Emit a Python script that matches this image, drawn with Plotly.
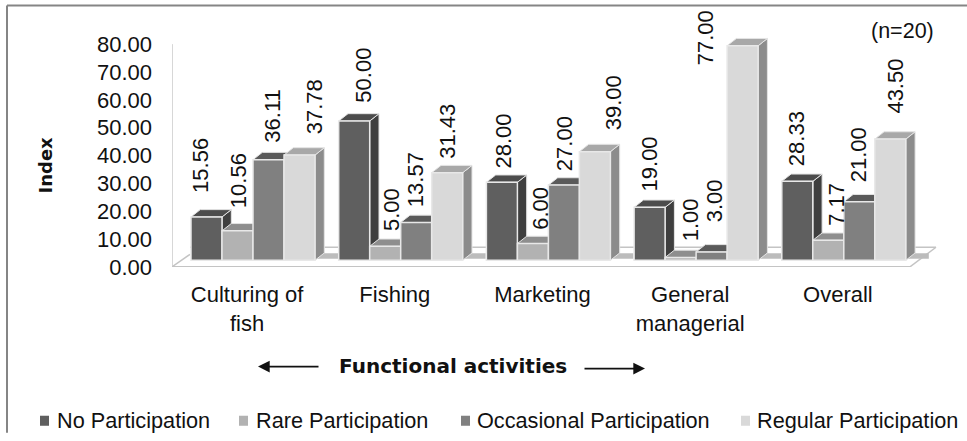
import plotly.graph_objects as go

categories = ["Culturing of<br>fish", "Fishing", "Marketing", "General<br>managerial", "Overall"]
no_participation = [15.56, 50.00, 28.00, 19.00, 28.33]
rare_participation = [10.56, 5.00, 6.00, 1.00, 7.17]
occasional_participation = [36.11, 13.57, 27.00, 3.00, 21.00]
regular_participation = [37.78, 31.43, 39.00, 77.00, 43.50]
series_names = ["No Participation", "Rare Participation", "Occasional Participation", "Regular Participation"]
y_ticks = [0, 10, 20, 30, 40, 50, 60, 70, 80]

# Styling
W, H = 967, 441
L, R_PX, B_PX = 172, 940, 266.7
PXY = (B_PX - 44.5) / 80.0
Y_MAX = 84
T = B_PX - Y_MAX * PXY
PITCH = 147.7
X0_PX = 253.0
BW = 31 / PITCH
DX = 9.3 / PITCH
DY = 7.3 / PXY
BASE = 6.7 / PXY
FONT = "Liberation Sans"
front = ["#5f5f5f", "#b2b2b2", "#808080", "#d9d9d9"]
top_c = ["#4c4c4c", "#8e8e8e", "#5a5a5a", "#a8a8a8"]
side_c = ["#3f3f3f", "#6e6e6e", "#5a5a5a", "#8c8c8c"]
offsets = [-2 * BW, -BW, 0, BW]
label_dx = [[-6, 1, 4, 15], [9, 7, 0, 0], [1.5, 7.5, 0, 19], [0, 10.7, 3.3, -37.6], [0, 8, -1.3, 5.7]]
label_gap = [[23, 21.7, 16, 19.7], [17, 14, 14, 12.6], [12.7, 12.7, 13.3, 20.7], [15, 15, 29, -21], [14, 13.3, 18, 24]]
all_values = [no_participation, rare_participation, occasional_participation, regular_participation]

xd = lambda px: (px - X0_PX) / PITCH
yd = lambda py: (B_PX - py) / PXY
xp = lambda px: (px - L) / (R_PX - L)
yp = lambda py: (B_PX - py) / (B_PX - T)
idx = list(range(len(categories)))
x_range = [xd(L), xd(R_PX)]

fig = go.Figure()

# side and top faces, left to right, under the fronts
for s, vals in enumerate(all_values):
    tx, ty, sx, sy = [], [], [], []
    for i, v in zip(idx, vals):
        x0 = i + offsets[s]
        x1 = x0 + BW
        t = BASE + v
        tx += [x0, x0 + DX, x1 + DX, x1, x0, None]
        ty += [t, t + DY, t + DY, t, t, None]
        sx += [x1, x1 + DX, x1 + DX, x1, x1, None]
        sy += [BASE, BASE + DY, t + DY, t, BASE, None]
    fig.add_trace(go.Scatter(x=sx, y=sy, mode="lines", fill="toself", fillcolor=side_c[s],
                             line=dict(color="#e4e4e4", width=1), hoverinfo="skip", showlegend=False))
    fig.add_trace(go.Scatter(x=tx, y=ty, mode="lines", fill="toself", fillcolor=top_c[s],
                             line=dict(color="#e4e4e4", width=1), hoverinfo="skip", showlegend=False))

# fronts
for s, vals in enumerate(all_values):
    fig.add_trace(go.Bar(x=idx, y=vals, base=BASE, width=BW, offset=offsets[s], name=series_names[s],
                         marker=dict(color=front[s], line=dict(color="#e8e8e8", width=1.5)),
                         xaxis="x2", yaxis="y2", showlegend=False))

shapes = [
    dict(type="line", xref="paper", yref="paper", x0=xp(7), x1=xp(967), y0=yp(6), y1=yp(6),
         line=dict(color="#858585", width=2)),
    dict(type="line", xref="paper", yref="paper", x0=xp(7), x1=xp(7), y0=yp(6), y1=yp(432),
         line=dict(color="#858585", width=2)),
    dict(type="line", xref="x", yref="y", layer="below", x0=xd(L), x1=xd(L), y0=0, y1=y_ticks[-1],
         line=dict(color="#b0b0b0", width=1)),
]
# floor
floor_line = dict(color="#c4c4c4", width=1.5)
for a, b in [((172, 266.5), (910, 266.5)), ((910, 266.5), (936, 247)), ((190, 247), (936, 247)), ((172, 266.5), (190, 254))]:
    shapes.append(dict(type="line", xref="x", yref="y", layer="below",
                       x0=xd(a[0]), y0=yd(a[1]), x1=xd(b[0]), y1=yd(b[1]), line=floor_line))
# grey floor strip between the groups
for i in range(len(categories)):
    right = X0_PX + PITCH * i + 62
    path = f"M {xd(right)} {yd(258.5)} L {xd(right + 9)} {yd(253)} L {xd(right + 23)} {yd(253)} L {xd(right + 23)} {yd(258.5)} Z"
    shapes.append(dict(type="path", xref="x", yref="y", layer="below", path=path,
                       fillcolor="#bcbcbc", line=dict(width=0)))

annotations = []
for s, vals in enumerate(all_values):
    for i, v in zip(idx, vals):
        annotations.append(dict(x=i + offsets[s] + BW / 2, y=BASE + v, xref="x", yref="y", text=f"{v:.2f}",
                                textangle=-90, showarrow=False, xanchor="center", yanchor="bottom",
                                xshift=label_dx[i][s], yshift=label_gap[i][s],
                                font=dict(family=FONT, size=22, color="#111111"), borderpad=0))

annotations += [
    dict(x=xp(936), y=yp(31), xref="paper", yref="paper", text="(n=20)", showarrow=False, xanchor="right",
         yanchor="middle", font=dict(family=FONT, size=21.5, color="#111111")),
    dict(x=xp(45.5), y=yp(165), xref="paper", yref="paper", text="<b>Index</b>", textangle=-90, showarrow=False,
         xanchor="center", yanchor="middle", font=dict(family="DejaVu Sans", size=18, color="#111111")),
    dict(x=xp(453), y=yp(365), xref="paper", yref="paper", text="<b>Functional activities</b>", showarrow=False,
         xanchor="center", yanchor="middle", font=dict(family="DejaVu Sans", size=20, color="#111111")),
    dict(x=xp(258), y=yp(366), xref="paper", yref="paper", ax=62, ay=0, text="", showarrow=True,
         arrowhead=2, arrowsize=1.3, arrowwidth=1.8, arrowcolor="#111111"),
    dict(x=xp(645), y=yp(368), xref="paper", yref="paper", ax=-62, ay=0, text="", showarrow=True,
         arrowhead=2, arrowsize=1.3, arrowwidth=1.8, arrowcolor="#111111"),
]

swatch_left = [40, 239, 461, 741]
text_left = [56, 255, 476, 756]
for s, name in enumerate(series_names):
    shapes.append(dict(type="rect", xref="paper", yref="paper", x0=xp(swatch_left[s]), x1=xp(swatch_left[s] + 9),
                       y0=yp(415), y1=yp(425), fillcolor=front[s], line=dict(width=0)))
    annotations.append(dict(x=xp(text_left[s]), y=yp(420), xref="paper", yref="paper", text=name, showarrow=False,
                            xanchor="left", yanchor="middle", font=dict(family=FONT, size=21.7, color="#111111"), borderpad=0))

fig.update_layout(
    width=W, height=H, autosize=False, paper_bgcolor="white", plot_bgcolor="rgba(0,0,0,0)",
    margin=dict(l=L, r=W - R_PX, t=T, b=H - B_PX, pad=0),
    barmode="overlay", showlegend=False, shapes=shapes, annotations=annotations,
    font=dict(family=FONT, color="#111111"),
    xaxis=dict(range=x_range, tickmode="array", tickvals=[i - 0.04 for i in idx], ticktext=categories,
               showgrid=False, zeroline=False, showline=False, ticks="", ticklabelstandoff=12,
               tickfont=dict(family=FONT, size=22, color="#111111"), tickangle=0),
    yaxis=dict(range=[0, Y_MAX], tickmode="array", tickvals=y_ticks, ticktext=[f"{t:.2f}" for t in y_ticks],
               showgrid=False, zeroline=False, showline=False, ticks="",
               ticklabelstandoff=19, tickfont=dict(family=FONT, size=22, color="#111111")),
    xaxis2=dict(range=x_range, overlaying="x", visible=False, anchor="y2"),
    yaxis2=dict(range=[0, Y_MAX], overlaying="y", visible=False, anchor="x2"),
)

fig.write_html("out.html", config=dict(displayModeBar=False),
               post_script="document.body.style.margin='0';document.body.style.overflow='hidden';")
